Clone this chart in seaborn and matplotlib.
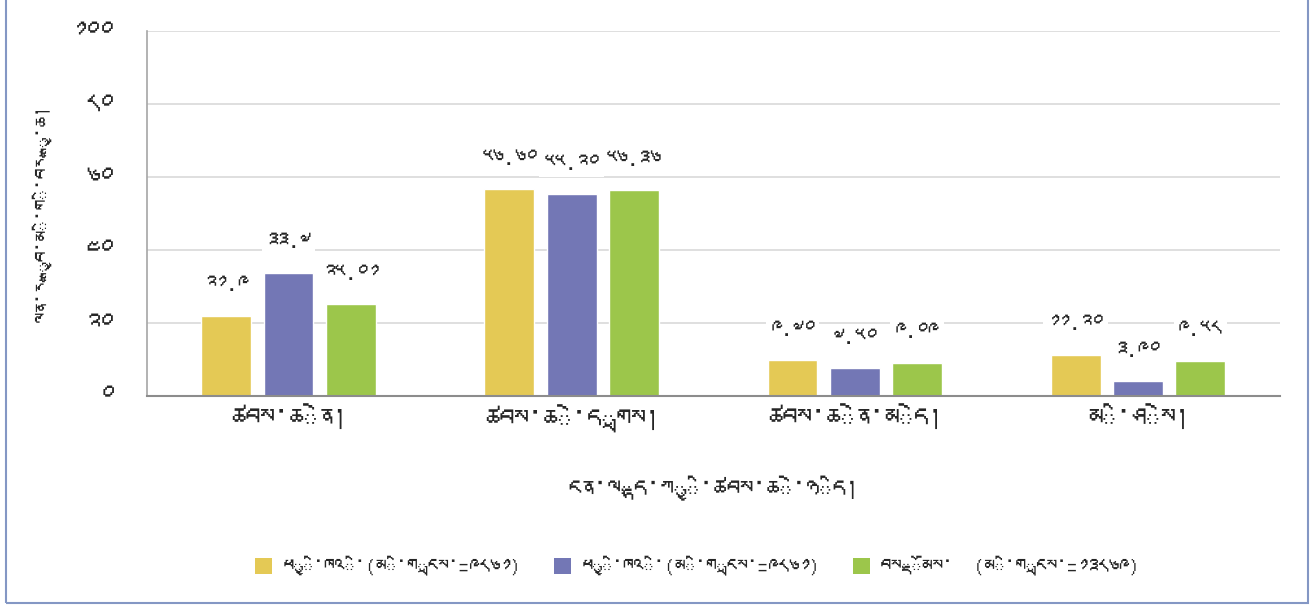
import matplotlib
matplotlib.use("Agg")
import matplotlib.pyplot as plt
import matplotlib.font_manager as fm
from matplotlib.patches import Rectangle, Patch
import seaborn as sns
import pandas as pd

# ---------------- data ----------------
categories = ["ཚབས་ཆེན།", "ཚབས་ཆེ་དྲགས།", "ཚབས་ཆེན་མེད།", "མི་ཤེས།"]
series_keys = ["s1", "s2", "s3"]
series_names = ["ཕྱི་ཁའི་(མི་གྲངས་=༩༨༦༡)",
                "ཕྱི་ཁའི་(མི་གྲངས་=༩༨༦༡)",
                "བསྡོམས་  (མི་གྲངས་=༡༣༨༦༩)"]
yellow_vals = [21.9, 56.60, 9.70, 11.20]
blue_vals = [33.7, 55.20, 7.50, 3.90]
green_vals = [25.01, 56.36, 9.09, 9.58]
yellow_labels = ["༢༡.༩", "༥༦.༦༠", "༩.༧༠", "༡༡.༢༠"]
blue_labels = ["༣༣.༧", "༥༥.༢༠", "༧.༥༠", "༣.༩༠"]
green_labels = ["༢༥.༠༡", "༥༦.༣༦", "༩.༠༩", "༩.༥༨"]
y_ticks = [0, 20, 40, 60, 80, 100]
x_title = "ངན་ལྷད་ཀྱི་ཚབས་ཆེ་ཉིད།"
y_title = "ལན་རྒྱབ་མི་གི་བརྒྱ་ཆ།"
colors = ["#E4C955", "#7377B5", "#9CC64B"]

# ---------------- font search ----------------
def find_tibetan_font():
    try:
        from fontTools.ttLib import TTFont
    except Exception:
        return None
    for path in fm.findSystemFonts():
        try:
            f = TTFont(path, fontNumber=0, lazy=True)
            cmap = f.getBestCmap()
            if cmap and 0x0F40 in cmap and 0x0F22 in cmap:
                fm.fontManager.addfont(path)
                return fm.FontProperties(fname=path).get_name()
        except Exception:
            continue
    return None

sns.set_theme(style="white")
tib = find_tibetan_font()
families = ([tib] if tib else []) + ["DejaVu Sans"]
plt.rcParams["font.family"] = families

TIB_DIGITS = str.maketrans("0123456789", "༠༡༢༣༤༥༦༧༨༩")

df = pd.DataFrame({
    "cat": categories * 3,
    "series": sum([[k] * len(categories) for k in series_keys], []),
    "val": yellow_vals + blue_vals + green_vals,
})

fig = plt.figure(figsize=(13.11, 6.06), dpi=100)
ax = fig.add_axes([0.112, 0.347, 0.864, 0.602])

sns.barplot(data=df, x="cat", y="val", hue="series", hue_order=series_keys,
            palette=colors, width=0.66, gap=0.2, ax=ax, legend=False,
            errorbar=None, saturation=1)

ax.set_ylim(0, 100)
ax.set_yticks(y_ticks)
ax.set_yticklabels([str(t).translate(TIB_DIGITS) for t in y_ticks], fontsize=20)
ax.tick_params(axis="y", length=0, pad=24)
ax.tick_params(axis="x", length=0, pad=8, labelsize=21)
ax.set_xticks(range(len(categories)))
ax.set_xticklabels(categories)
ax.grid(axis="y", color="#d9d9d9", linewidth=1.2)
ax.set_axisbelow(True)
for s in ["top", "right"]:
    ax.spines[s].set_visible(False)
ax.spines["left"].set_color("#a6a6a6")
ax.spines["bottom"].set_color("#8c8c8c")
ax.spines["left"].set_linewidth(1.2)
ax.spines["bottom"].set_linewidth(1.5)

ax.set_xlabel(x_title, fontsize=19, labelpad=30)
ax.set_ylabel(y_title, fontsize=15, labelpad=14)

all_labels = [yellow_labels, blue_labels, green_labels]
for i, (cont, labs) in enumerate(zip(ax.containers, all_labels)):
    for bar, lab in zip(cont, labs):
        ax.annotate(lab, (bar.get_x() + bar.get_width() / 2, bar.get_height()),
                    xytext=(0, 22), textcoords="offset points",
                    ha="center", va="center", fontsize=16,
                    bbox=dict(boxstyle="square,pad=0.2", fc="white", ec="none"))

handles = [Patch(facecolor=c, edgecolor="none") for c in colors]
fig.legend(handles, series_names, loc="center", bbox_to_anchor=(0.532, 0.066),
           ncol=3, frameon=False, fontsize=15, handlelength=0.8, handleheight=0.8,
           handletextpad=0.5, columnspacing=1.6)

fig.patches.append(Rectangle((6 / 1311, 3 / 606), 1302 / 1311, 1.1,
                             transform=fig.transFigure, fill=False,
                             edgecolor="#8497c4", linewidth=1.5))

fig.savefig("out.png", dpi=100)
